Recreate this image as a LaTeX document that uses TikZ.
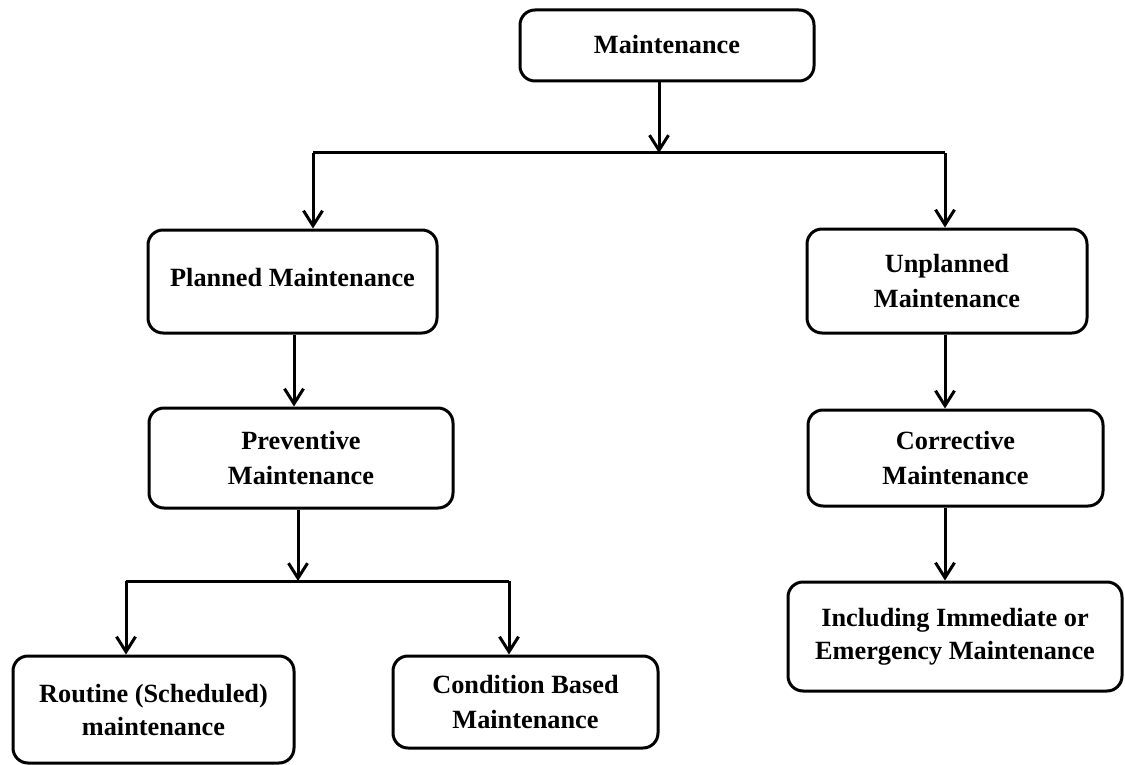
\documentclass[tikz,border=0pt]{standalone}
\usepackage{fontspec}
\setmainfont{Liberation Serif}
\usetikzlibrary{arrows.meta,calc}
\begin{document}
\begin{tikzpicture}[x=1pt,y=-1pt,
  box/.style={draw=black, line width=3pt, rounded corners=15pt, fill=white,
    inner sep=0pt, align=center, font=\fontsize{26.3}{35}\selectfont\bfseries},
  conn/.style={draw=black, line width=3pt},
  arr/.style={conn, -{Straight Barb[length=15pt,width=19pt]}}]
\useasboundingbox (0,0) rectangle (1125,765);
\fill[white] (0,0) rectangle (1125,765);
% boxes
\node[box, minimum width=294pt, minimum height=71pt] (M) at (667,45.5) {\raisebox{3pt}{Maintenance}};
\node[box, minimum width=289pt, minimum height=103pt] (P) at (292.5,281.5) {\raisebox{9pt}{Planned Maintenance}};
\node[box, minimum width=280pt, minimum height=104pt] (U) at (947,281) {Unplanned\\Maintenance};
\node[box, minimum width=304pt, minimum height=100pt] (PV) at (301,458) {Preventive\\Maintenance};
\node[box, minimum width=295pt, minimum height=96pt] (C) at (955.5,458) {Corrective\\Maintenance};
\node[box, minimum width=334pt, minimum height=109pt] (I) at (955,636.5) {Including Immediate or\\[-2pt]Emergency Maintenance};
\node[box, minimum width=281pt, minimum height=107pt] (R) at (153.5,709.5) {Routine (Scheduled)\\[-2pt]maintenance};
\node[box, minimum width=265pt, minimum height=92pt] (CB) at (525.5,702) {Condition Based\\Maintenance};
% junction coordinates
\coordinate (j1) at (659,153);
\coordinate (bl) at (313,153);
\coordinate (br) at (945,153);
\coordinate (j2) at (298,581);
\coordinate (cl) at (126,581);
\coordinate (cr) at (509,581);
% connectors
\draw[arr] (M.south -| j1) -- (j1);
\draw[conn] (bl) -- (br);
\draw[arr] (bl) -- (P.north -| bl);
\draw[arr] (br) -- (U.north -| br);
\draw[arr] (P.south -| 294,0) -- (PV.north -| 294,0);
\draw[arr] (U.south -| br) -- (C.north -| br);
\draw[arr] (C.south -| br) -- (I.north -| br);
\draw[arr] (PV.south -| j2) -- (j2);
\draw[conn] (cl) -- (cr);
\draw[arr] (cl) -- (R.north -| cl);
\draw[arr] (cr) -- (CB.north -| cr);
\end{tikzpicture}
\end{document}
